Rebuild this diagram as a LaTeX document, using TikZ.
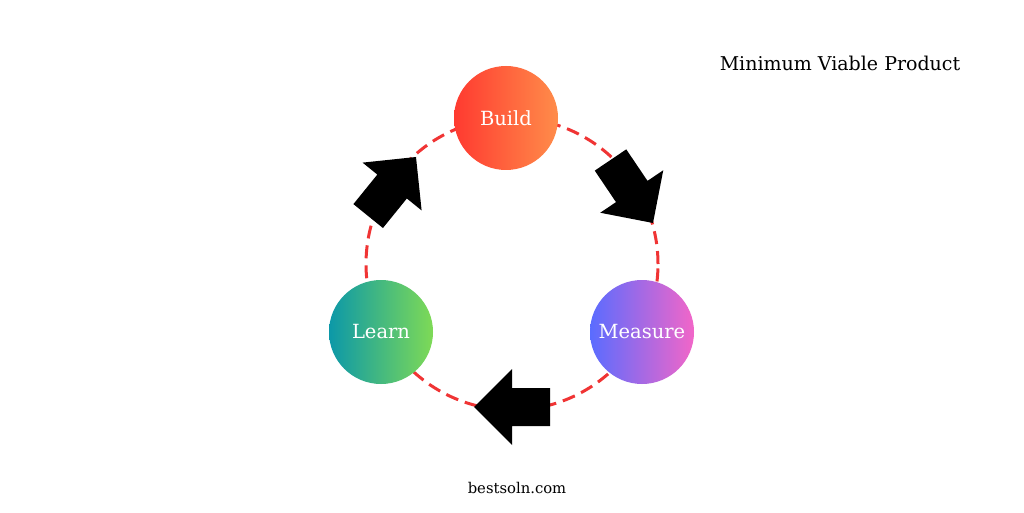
\documentclass[tikz,border=0pt]{standalone}
\usepackage{fontspec}
\setmainfont{DejaVu Serif}
\begin{document}
\begin{tikzpicture}[x=1pt,y=1pt,
  stage/.style={circle,minimum size=104pt,inner sep=0pt,text=white,font=\fontsize{19.5}{22}\selectfont},
  ring/.style={draw=ringred,line width=3pt,dash pattern=on 13pt off 7pt},
  blockarrow/.style={fill=black},
  label/.style={text=black,font=\fontsize{19}{22}\selectfont}]
\definecolor{ringred}{RGB}{240,52,52}
\definecolor{bA}{RGB}{255,58,48}
\definecolor{bB}{RGB}{255,140,74}
\definecolor{lA}{RGB}{12,152,168}
\definecolor{lB}{RGB}{126,218,86}
\definecolor{mA}{RGB}{90,108,255}
\definecolor{mB}{RGB}{242,102,200}
\useasboundingbox[fill=white] (0,0) rectangle (1024,512);
\coordinate (c) at (512,248);
\draw[ring] (c) circle[radius=146];
\node[stage,left color=bA,right color=bB] (build) at (506,394) {Build};
\node[stage,left color=lA,right color=lB] (learn) at (381,180) {Learn};
\node[stage,left color=mA,right color=mB] (measure) at (642,180) {Measure};
% block arrows (tip at origin, pointing +x)
\foreach \px/\py/\ang in {474/105/180, 653/289/-56, 416/355/51}{
  \fill[blockarrow,shift={(\px,\py)},rotate=\ang]
    (0,0) -- (-38,38) -- (-38,19) -- (-76,19) -- (-76,-19) -- (-38,-19) -- (-38,-38) -- cycle;
}
\node[label] (title) at (840,449) {Minimum Viable Product};
\node[label,font=\fontsize{14.8}{17}\selectfont] (site) at (517,24) {bestsoln.com};
\end{tikzpicture}
\end{document}
